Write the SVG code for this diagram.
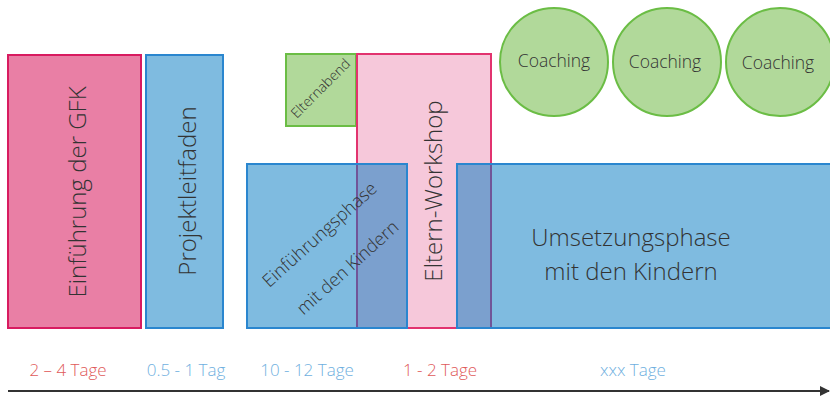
<svg xmlns="http://www.w3.org/2000/svg" width="830" height="398" viewBox="0 0 830 398">
<defs>
<style>
text{font-family:"Open Sans","Noto Sans","Liberation Sans",sans-serif;fill:#333;font-weight:300;}
.pink{fill:#e97fa5;stroke:#d81b60;stroke-width:2;}
.lpink{fill:#f6c8da;stroke:#e2336f;stroke-width:2;}
.blue{fill:#0077c1;fill-opacity:0.5;stroke:#2a86cf;stroke-width:2;}
.green{fill:#b1d99a;stroke:#6bbd45;stroke-width:2;}
.big{font-size:24px;text-anchor:middle;dominant-baseline:central;}
.mid{font-size:18px;text-anchor:middle;dominant-baseline:central;}
.coach{font-size:17.5px;text-anchor:middle;dominant-baseline:central;}
.lbl{font-size:17px;text-anchor:middle;}
.red{fill:#e05a5a;}
.lb{fill:#6fb0e0;}
</style>
<marker id="arr" viewBox="0 0 10 10" refX="9" refY="5" markerWidth="5" markerHeight="5" orient="auto"><path d="M0,0 L10,5 L0,10 z" fill="#333"/></marker>
</defs>
<g id="gfk"><rect class="pink" x="8" y="55" width="133" height="273"/><text class="big" transform="translate(76,192) rotate(-90)">Einführung der GFK</text></g>
<g id="projektleitfaden"><rect class="blue" x="146" y="55" width="77" height="273"/><text class="big" transform="translate(186,191) rotate(-90)">Projektleitfaden</text></g>
<g id="elternabend"><rect class="green" x="286" y="54" width="70" height="72"/><text style="font-size:14px;text-anchor:middle;dominant-baseline:central" transform="translate(320,88) rotate(-45)">Elternabend</text></g>
<g id="elternworkshop"><rect class="lpink" x="357" y="54" width="134" height="274"/><text class="big" transform="translate(432,191) rotate(-90)">Eltern-Workshop</text></g>
<g id="einfuehrungsphase"><rect class="blue" x="247" y="164" width="160" height="164"/><text class="mid" transform="translate(319,234) rotate(-42)">Einführungsphase</text><text class="mid" transform="translate(347,267) rotate(-42)">mit den Kindern</text></g>
<g id="umsetzungsphase"><rect class="blue" x="457" y="164" width="380" height="164"/><text class="big" x="631" y="236">Umsetzungsphase</text><text class="big" x="631" y="270">mit den Kindern</text></g>
<g id="coaching1"><circle class="green" cx="554" cy="62" r="54"/><text class="coach" x="554" y="60">Coaching</text></g>
<g id="coaching2"><circle class="green" cx="667" cy="62" r="54"/><text class="coach" x="665" y="61">Coaching</text></g>
<g id="coaching3"><circle class="green" cx="780" cy="62" r="54"/><text class="coach" x="778" y="62">Coaching</text></g>
<g id="labels">
<text class="lbl red" x="68" y="376">2 – 4 Tage</text>
<text class="lbl lb" x="186" y="376">0.5 - 1 Tag</text>
<text class="lbl lb" x="307" y="376">10 - 12 Tage</text>
<text class="lbl red" x="440" y="376">1 - 2 Tage</text>
<text class="lbl lb" x="633" y="376">xxx Tage</text>
</g>
<g id="connectors"><line x1="8" y1="391" x2="829" y2="391" stroke="#333" stroke-width="2" marker-end="url(#arr)"/></g>
</svg>
